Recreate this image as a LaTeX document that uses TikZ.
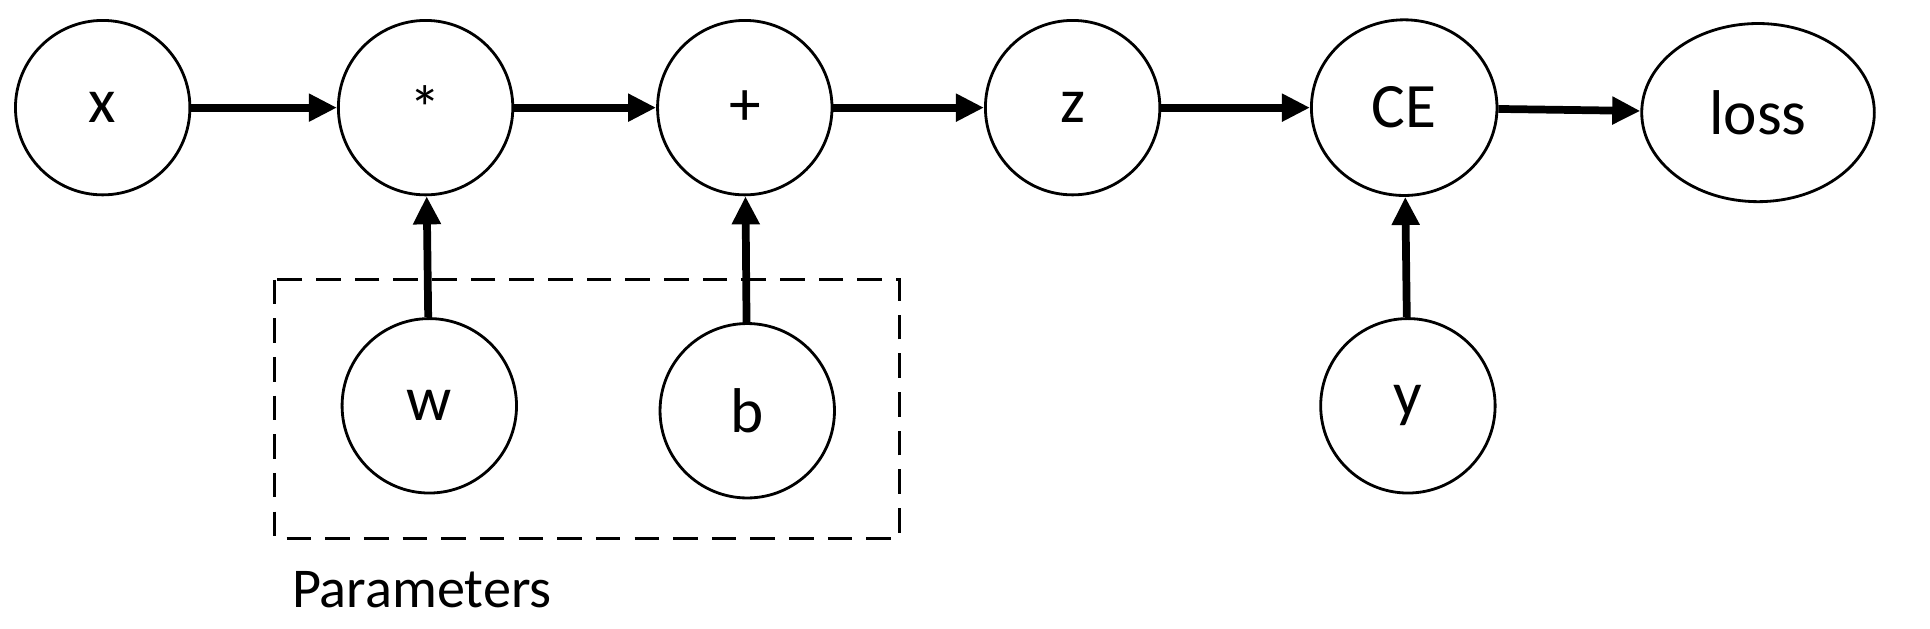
\documentclass[tikz,border=0pt]{standalone}
\usepackage{fontspec}
\setmainfont{Carlito}
\usetikzlibrary{arrows.meta, shapes.geometric}
\begin{document}
\begin{tikzpicture}[x=0.01237cm, y=-0.01237cm,
	op/.style={draw, circle, minimum size=141*0.01237cm, inner sep=0pt, font=\fontsize{18}{22}\selectfont, thick},
	flow/.style={-{Triangle[length=8pt,width=7.5pt]}, line width=2.2pt}]
	\useasboundingbox (0,0) rectangle (1560,508);
	%top row
	\node[op] (x) at (83,87) {x};
	\node[op] (mul) at (344,87) {*};
	\node[op] (add) at (602,87) {+};
	\node[op] (z) at (867,87) {z};
	\node[op, ellipse, minimum width=150*0.01237cm, minimum height=142*0.01237cm] (ce) at (1135,87) {CE};
	\node[op, ellipse, minimum width=188*0.01237cm, minimum height=144*0.01237cm] (loss) at (1421,91) {loss};
	%bottom row
	\node[op] (w) at (347,328) {w};
	\node[op] (b) at (604,332) {b};
	\node[op] (y) at (1138,328) {y};
	\draw[thick, dash pattern=on 7pt off 4pt] (222,226) rectangle (727,435);
	\node[anchor=west, font=\fontsize{16}{20}\selectfont] (params) at (226,477) {Parameters};
	%arrows
	\draw[flow] (x) -- (mul);
	\draw[flow] (mul) -- (add);
	\draw[flow] (add) -- (z);
	\draw[flow] (z) -- (ce);
	\draw[flow] (ce) -- (loss);
	\draw[flow] (w) -- (mul);
	\draw[flow] (b) -- (add);
	\draw[flow] (y) -- (ce);
\end{tikzpicture}
\end{document}
